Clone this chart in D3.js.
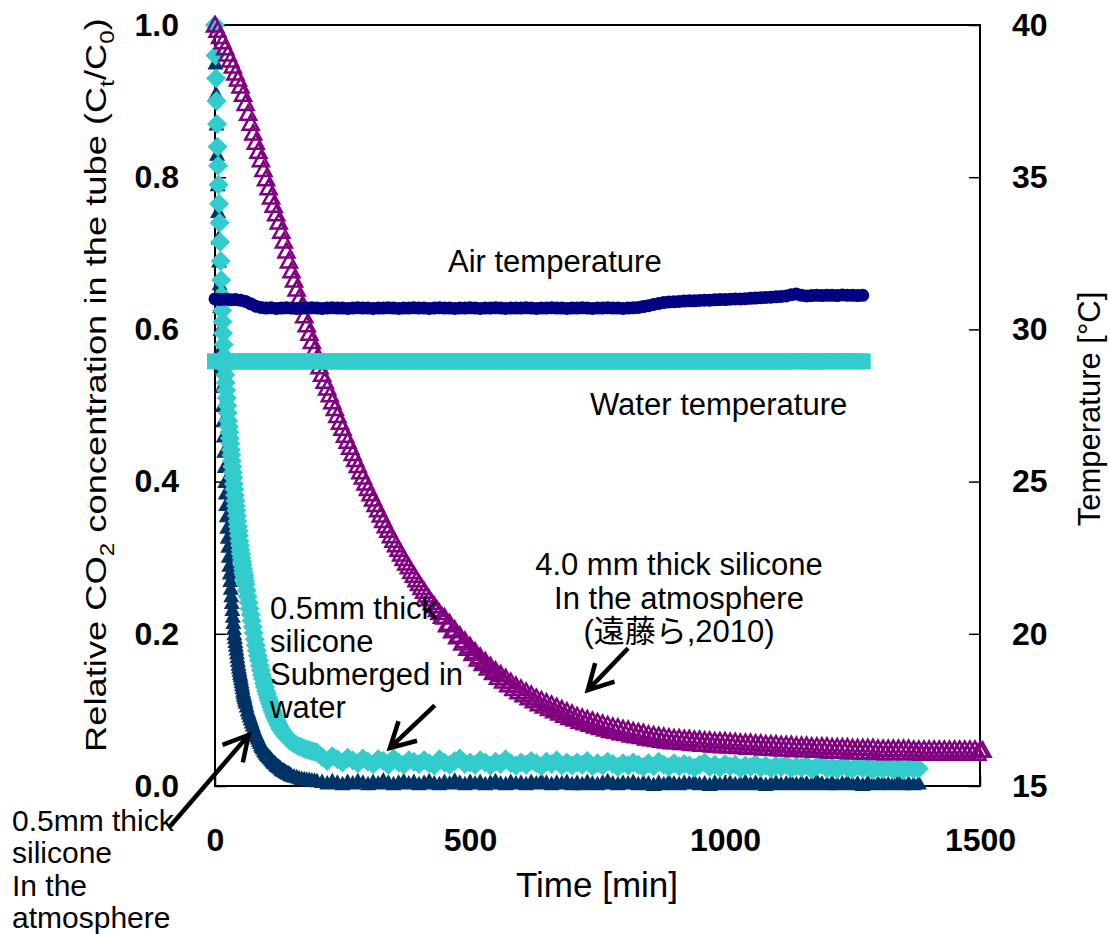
<!DOCTYPE html>
<html><head><meta charset="utf-8">
<script src="https://cdn.jsdelivr.net/npm/d3@7"></script>
<style>
body{margin:0;background:#fff}
text{font-family:"Liberation Sans",Arial,"Noto Sans CJK JP",sans-serif;fill:#000}
</style>
</head><body>
<svg id="c" width="1109" height="934"></svg>
<script>
// ---------------- DATA ----------------
const leftTicks = [0, 0.2, 0.4, 0.6, 0.8, 1.0];
const rightTicks = [15, 20, 25, 30, 35, 40];
const bottomTicks = [0, 500, 1000, 1500];

// time stamps (min) for the two 0.5 mm series
const tFast = [0,1,2,3,4,5,6,7,8,9,10,11,12,13,14,15,16,17,18,19,20,
  21,22,23,24,25,26,27,28,29,30,31,32,33,34,35,36,37,38,39,40,
  41,42,43,44,45,46,47,48,49,50,51,52,53,54,55,56,57,58,59,60,
  62,64,66,68,70,72,74,76,78,80,82,84,86,88,90,92,94,96,98,100,
  102,104,106,108,110,112,114,116,118,120,122,124,126,128,130,132,134,136,138,140,
  142,144,146,148,150,155,160,165,170,175,180,185,190,195,200,
  210,220,230,240,250,260,270,280,290,300,310,320,330,340,350,360,370,380,390,400,
  410,420,430,440,450,460,470,480,490,500,510,520,530,540,550,560,570,580,590,600,
  610,620,630,640,650,660,670,680,690,700,710,720,730,740,750,760,770,780,790,800,
  810,820,830,840,850,860,870,880,890,900,910,920,930,940,950,960,970,980,990,1000,
  1010,1020,1030,1040,1050,1060,1070,1080,1090,1100,1110,1120,1130,1140,1150,1160,1170,1180,1190,1200,
  1210,1220,1230,1240,1250,1260,1270,1280,1290,1300,1310,1320,1330,1340,1350,1360,1370,1380];

// 0.5 mm thick silicone, in the atmosphere (Ct/C0)
const atmo05 = [1.00,0.95,0.91,0.87,0.83,0.79,0.755,0.72,0.69,0.66,0.63,0.60,0.575,0.55,0.525,0.50,0.48,0.46,0.44,0.42,0.40,
  0.385,0.37,0.355,0.34,0.327,0.315,0.302,0.29,0.28,0.27,0.26,0.25,0.241,0.232,0.223,0.215,0.207,0.20,0.195,0.19,
  0.185,0.18,0.175,0.17,0.165,0.16,0.156,0.152,0.148,0.145,0.141,0.137,0.133,0.129,0.125,0.122,0.119,0.116,0.113,0.11,
  0.105,0.100,0.096,0.092,0.088,0.084,0.080,0.076,0.072,0.069,0.066,0.063,0.060,0.057,0.054,0.052,0.050,0.047,0.045,0.043,
  0.041,0.040,0.038,0.037,0.035,0.034,0.032,0.031,0.030,0.028,0.027,0.026,0.025,0.024,0.022,0.021,0.021,0.020,0.019,0.018,
  0.017,0.017,0.016,0.015,0.014,0.013,0.012,0.011,0.010,0.0095,0.009,0.0085,0.008,0.0075,0.007,
  0.006,0.004,0.007,0.005,0.003,0.006,0.004,0.007,0.005,0.003,
  0.006,0.004,0.008,0.005,0.003,0.005,0.007,0.004,0.006,0.003,
  0.005,0.007,0.004,0.003,0.006,0.004,0.008,0.005,0.003,0.006,
  0.004,0.006,0.003,0.005,0.007,0.004,0.003,0.006,0.004,0.005,
  0.003,0.006,0.004,0.007,0.005,0.003,0.005,0.004,0.006,0.003,
  0.005,0.003,0.006,0.004,0.003,0.005,0.007,0.004,0.003,0.005,
  0.004,0.006,0.003,0.005,0.004,0.002,0.005,0.003,0.006,0.004,
  0.003,0.005,0.004,0.006,0.003,0.004,0.002,0.005,0.003,0.004,
  0.005,0.003,0.004,0.006,0.003,0.005,0.004,0.002,0.004,0.005,
  0.003,0.004,0.006,0.003,0.005,0.004,0.003,0.007,0.004,0.003,
  0.005,0.003,0.004,0.006,0.003,0.004,0.002,0.005,0.003,0.004,
  0.005,0.003,0.004,0.006,0.003,0.004,0.003,0.004];

// 0.5 mm thick silicone, submerged in water (Ct/C0)
const water05 = [1.00,0.96,0.93,0.90,0.87,0.84,0.815,0.79,0.765,0.74,0.715,0.69,0.665,0.645,0.625,0.61,0.595,0.58,0.565,0.55,0.54,
  0.53,0.52,0.51,0.50,0.49,0.48,0.472,0.465,0.457,0.45,0.442,0.435,0.427,0.42,0.412,0.405,0.397,0.39,0.382,0.375,
  0.368,0.362,0.355,0.348,0.341,0.335,0.329,0.322,0.316,0.31,0.305,0.30,0.295,0.29,0.285,0.281,0.277,0.273,0.269,0.265,
  0.257,0.249,0.241,0.233,0.225,0.217,0.209,0.201,0.193,0.185,0.178,0.171,0.165,0.158,0.152,0.146,0.141,0.135,0.130,0.125,
  0.121,0.116,0.112,0.108,0.104,0.100,0.097,0.093,0.090,0.087,0.084,0.081,0.079,0.076,0.074,0.072,0.070,0.068,0.066,0.065,
  0.063,0.062,0.060,0.059,0.058,0.056,0.054,0.052,0.051,0.049,0.048,0.047,0.046,0.045,0.044,
  0.038,0.033,0.039,0.035,0.031,0.037,0.034,0.030,0.036,0.032,
  0.029,0.035,0.033,0.028,0.036,0.031,0.028,0.034,0.032,0.029,
  0.034,0.030,0.027,0.035,0.031,0.028,0.033,0.036,0.029,0.031,
  0.028,0.034,0.031,0.027,0.032,0.029,0.035,0.030,0.027,0.031,
  0.028,0.033,0.030,0.026,0.032,0.029,0.034,0.027,0.031,0.027,
  0.031,0.028,0.033,0.026,0.030,0.027,0.032,0.029,0.025,0.030,
  0.027,0.031,0.028,0.025,0.030,0.026,0.032,0.028,0.025,0.030,
  0.026,0.029,0.027,0.024,0.028,0.031,0.025,0.028,0.024,0.029,
  0.026,0.028,0.023,0.027,0.025,0.029,0.024,0.027,0.023,0.027,
  0.025,0.028,0.023,0.026,0.024,0.027,0.022,0.026,0.028,0.023,
  0.025,0.022,0.027,0.024,0.022,0.026,0.023,0.025,0.021,0.024,
  0.022,0.025,0.021,0.024,0.021,0.024,0.022,0.023];

// 4.0 mm thick silicone, in the atmosphere (Endo et al., 2010)
const tThick = [0,5,10,15,20,25,30,35,40,45,50,55,60,65,70,75,80,85,90,95,
  100,105,110,115,120,125,130,135,140,145,150,155,160,165,170,175,180,185,190,195,
  200,205,210,215,220,225,230,235,240,245,250,255,260,265,270,275,280,285,290,295,
  300,305,310,315,320,325,330,335,340,345,350,355,360,365,370,375,380,385,390,395,
  400,405,410,415,420,425,430,435,440,445,450,455,460,465,470,475,480,485,490,495,
  500,505,510,515,520,525,530,535,540,545,550,555,560,565,570,575,580,585,590,595,
  600,605,610,615,620,625,630,635,640,645,650,655,660,665,670,675,680,685,690,695,
  700,705,710,715,720,725,730,735,740,745,750,755,760,765,770,775,780,785,790,795,
  800,805,810,815,820,825,830,835,840,845,850,855,860,865,870,875,880,885,890,895,
  900,905,910,915,920,925,930,935,940,945,950,955,960,965,970,975,980,985,990,995,
  1000,1005,1010,1015,1020,1025,1030,1035,1040,1045,1050,1055,1060,1065,1070,1075,1080,1085,1090,1095,
  1100,1105,1110,1115,1120,1125,1130,1135,1140,1145,1150,1155,1160,1165,1170,1175,1180,1185,1190,1195,
  1200,1205,1210,1215,1220,1225,1230,1235,1240,1245,1250,1255,1260,1265,1270,1275,1280,1285,1290,1295,
  1300,1305,1310,1315,1320,1325,1330,1335,1340,1345,1350,1355,1360,1365,1370,1375,1380,1385,1390,1395,
  1400,1405,1410,1415,1420,1425,1430,1435,1440,1445,1450,1455,1460,1465,1470,1475,1480,1485,1490,1495,
  1500,1505];
const atmo40 = [1.000,0.993,0.985,0.978,0.970,0.962,0.954,0.946,0.937,0.929,
  0.920,0.909,0.897,0.884,0.871,0.858,0.846,0.834,0.823,0.810,
  0.798,0.786,0.774,0.763,0.752,0.741,0.729,0.716,0.703,0.690,
  0.677,0.665,0.653,0.641,0.630,0.618,0.606,0.595,0.584,0.573,
  0.562,0.551,0.541,0.532,0.523,0.514,0.505,0.496,0.487,0.478,
  0.470,0.461,0.453,0.445,0.437,0.429,0.421,0.413,0.406,0.398,
  0.391,0.384,0.377,0.370,0.363,0.356,0.349,0.342,0.336,0.329,
  0.323,0.317,0.311,0.305,0.299,0.293,0.288,0.282,0.277,0.271,
  0.266,0.261,0.256,0.251,0.246,0.241,0.237,0.232,0.228,0.223,
  0.222,0.212,0.214,0.204,0.206,0.196,0.198,0.188,0.191,0.181,
  0.184,0.174,0.177,0.167,0.170,0.161,0.164,0.155,0.158,0.149,
  0.152,0.143,0.147,0.138,0.142,0.133,0.137,0.128,0.132,0.124,
  0.128,0.120,0.124,0.116,0.120,0.112,0.116,0.108,0.113,0.105,
  0.110,0.102,0.107,0.099,0.104,0.096,0.101,0.093,0.098,0.090,
  0.095,0.088,0.092,0.085,0.090,0.083,0.088,0.081,0.086,0.079,
  0.084,0.077,0.082,0.075,0.080,0.073,0.078,0.072,0.077,0.070,
  0.075,0.069,0.074,0.067,0.072,0.066,0.071,0.065,0.070,0.063,
  0.068,0.062,0.067,0.061,0.066,0.060,0.065,0.059,0.064,0.058,
  0.063,0.058,0.063,0.057,0.062,0.057,0.062,0.056,0.061,0.056,
  0.061,0.055,0.060,0.055,0.060,0.054,0.059,0.054,0.059,0.053,
  0.059,0.053,0.058,0.053,0.058,0.052,0.057,0.052,0.057,0.051,
  0.057,0.051,0.056,0.051,0.056,0.050,0.055,0.050,0.055,0.050,
  0.055,0.049,0.054,0.049,0.054,0.049,0.054,0.048,0.053,0.048,
  0.053,0.048,0.053,0.048,0.052,0.047,0.052,0.047,0.052,0.047,
  0.052,0.046,0.051,0.046,0.051,0.046,0.051,0.046,0.051,0.045,
  0.050,0.045,0.050,0.045,0.050,0.045,0.050,0.045,0.050,0.044,
  0.049,0.044,0.049,0.044,0.049,0.044,0.049,0.044,0.049,0.044,
  0.049,0.044,0.049,0.044,0.048,0.044,0.048,0.043,0.048,0.043,
  0.048,0.043,0.048,0.043,0.048,0.043,0.048,0.043,0.048,0.043,
  0.048,0.043,0.048,0.043,0.048,0.043,0.048,0.043,0.048,0.043,
  0.047,0.047];

// temperatures (°C)
const tTemp = [0,10,20,30,40,50,60,70,80,90,100,110,120,130,140,150,160,170,180,190,
  200,210,220,230,240,250,260,270,280,290,300,310,320,330,340,350,360,370,380,390,
  400,410,420,430,440,450,460,470,480,490,500,510,520,530,540,550,560,570,580,590,
  600,610,620,630,640,650,660,670,680,690,700,710,720,730,740,750,760,770,780,790,
  800,810,820,830,840,850,860,870,880,890,900,910,920,930,940,950,960,970,980,990,
  1000,1010,1020,1030,1040,1050,1060,1070,1080,1090,1100,1110,1120,1130,1140,1150,1160,1170,1180,1190,
  1200,1210,1220,1230,1240,1250,1260,1270];
const airTemp = [31.00,30.98,30.99,30.97,30.98,30.96,30.92,30.84,30.76,30.72,
  30.70,30.71,30.69,30.70,30.71,30.70,30.69,30.70,30.70,30.71,
  30.70,30.69,30.70,30.71,30.70,30.70,30.69,30.70,30.71,30.70,
  30.70,30.69,30.70,30.70,30.71,30.70,30.69,30.70,30.70,30.71,
  30.70,30.70,30.69,30.70,30.71,30.70,30.70,30.69,30.70,30.70,
  30.71,30.70,30.69,30.70,30.70,30.71,30.70,30.69,30.70,30.70,
  30.70,30.71,30.70,30.69,30.70,30.70,30.71,30.70,30.70,30.69,
  30.70,30.70,30.71,30.70,30.69,30.70,30.70,30.71,30.70,30.70,
  30.69,30.70,30.71,30.72,30.75,30.78,30.82,30.85,30.88,30.90,
  30.91,30.92,30.93,30.94,30.94,30.95,30.96,30.96,30.97,30.98,
  30.98,30.99,31.00,31.00,31.01,31.02,31.03,31.04,31.05,31.06,
  31.07,31.08,31.10,31.14,31.16,31.12,31.10,31.11,31.12,31.11,
  31.12,31.12,31.11,31.13,31.12,31.12,31.11,31.12];
const waterTemp = [28.95,28.95,28.95,28.95,28.95,28.95,28.95,28.95,28.95,28.95,
  28.95,28.95,28.95,28.95,28.95,28.95,28.95,28.95,28.95,28.95,
  28.95,28.95,28.95,28.95,28.95,28.95,28.95,28.95,28.95,28.95,
  28.95,28.95,28.95,28.95,28.95,28.95,28.95,28.95,28.95,28.95,
  28.95,28.95,28.95,28.95,28.95,28.95,28.95,28.95,28.95,28.95,
  28.95,28.95,28.95,28.95,28.95,28.95,28.95,28.95,28.95,28.95,
  28.95,28.95,28.95,28.95,28.95,28.95,28.95,28.95,28.95,28.95,
  28.95,28.95,28.95,28.95,28.95,28.95,28.95,28.95,28.95,28.95,
  28.95,28.95,28.95,28.95,28.95,28.95,28.95,28.95,28.95,28.95,
  28.95,28.95,28.95,28.95,28.95,28.95,28.95,28.95,28.95,28.95,
  28.95,28.95,28.95,28.95,28.95,28.95,28.95,28.95,28.95,28.95,
  28.95,28.95,28.95,28.95,28.96,28.95,28.95,28.95,28.95,28.95,
  28.95,28.96,28.95,28.95,28.96,28.95,28.95,28.95];

// ---------------- CHART ----------------
const svg = d3.select("#c");
const x = d3.scaleLinear().domain([0, 1500]).range([215, 980]);
const yL = d3.scaleLinear().domain([0, 1]).range([786, 25]);
const yR = d3.scaleLinear().domain([15, 40]).range([786, 25]);

const C = {navy:"#003366", cyan:"#33CCCC", purple:"#800080", air:"#000080"};

// frame
svg.append("rect").attr("x", x(0)).attr("y", yL(1)).attr("width", x(1500)-x(0)).attr("height", yL(0)-yL(1))
  .attr("fill","none").attr("stroke","#000").attr("stroke-width",2);

// axes
function styleAxis(g){
  g.select(".domain").remove();
  g.selectAll(".tick line").attr("stroke","#000").attr("stroke-width",1.5);
  g.selectAll(".tick text").style("font-size","32px").style("font-weight","bold")
    .style("font-family",'"Liberation Sans",Arial,sans-serif').attr("fill","#000");
}
svg.append("g").attr("transform",`translate(${x(0)},0)`)
  .call(d3.axisLeft(yL).tickValues(leftTicks).tickFormat(d3.format(".1f")).tickSizeInner(-11).tickSizeOuter(0).tickPadding(36))
  .call(styleAxis);
svg.append("g").attr("transform",`translate(${x(1500)},0)`)
  .call(d3.axisRight(yR).tickValues(rightTicks).tickSizeInner(-11).tickSizeOuter(0).tickPadding(32))
  .call(styleAxis);
svg.append("g").attr("transform",`translate(0,${yL(0)})`)
  .call(d3.axisBottom(x).tickValues(bottomTicks).tickFormat(d3.format("d")).tickSizeInner(-11).tickSizeOuter(0).tickPadding(42))
  .call(styleAxis);

// marker shapes
const triPath = "M0,-8L8,6.5L-8,6.5Z";
const diaPath = "M0,-10L10,0L0,10L-10,0Z";
const openTri = "M0,-8L8,6.5L-8,6.5Z";

function series(ts, vs, ys, path, fill, stroke, sw){
  svg.append("g").selectAll("path").data(ts.map((t,i)=>[t,vs[i]])).join("path")
    .attr("d", path)
    .attr("transform", d=>`translate(${x(d[0])},${ys(d[1])})`)
    .attr("fill", fill).attr("stroke", stroke).attr("stroke-width", sw);
}
series(tFast, atmo05, yL, triPath, C.navy, "none", 0);
series(tFast, water05, yL, diaPath, C.cyan, "none", 0);
series(tThick, atmo40, yL, openTri, "none", C.purple, 2.5);

// temperatures
svg.append("g").selectAll("circle").data(tTemp.map((t,i)=>[t,airTemp[i]])).join("circle")
  .attr("cx", d=>x(d[0])).attr("cy", d=>yR(d[1])).attr("r",6.5).attr("fill",C.air);
svg.append("g").selectAll("rect").data(tTemp.map((t,i)=>[t,waterTemp[i]])).join("rect")
  .attr("x", d=>x(d[0])-8).attr("y", d=>yR(d[1])-8).attr("width",16).attr("height",16).attr("fill",C.cyan);

// text helpers
function label(lines, px, py, anchor, lh, fs){
  const t = svg.append("text").attr("text-anchor", anchor||"start").style("font-size",(fs||31)+"px");
  lines.forEach((s,i)=> t.append("tspan").attr("x",px).attr("y",py+i*(lh||33)).text(s));
  return t;
}
label(["Air temperature"], 448, 272);
label(["Water temperature"], 590, 415);
label(["4.0 mm thick silicone","In the atmosphere","(遠藤ら,2010)"], 679, 575, "middle", 33.5);
label(["0.5mm thick","silicone","Submerged in","water"], 270, 619, "start", 33);
label(["0.5mm thick","silicone","In the","atmosphere"], 12, 831, "start", 32.3, 30);

// arrows (anchored in data coordinates)
function arrow(t0,c0,t1,c1){
  const x0=x(t0), y0=yL(c0), x1=x(t1), y1=yL(c1);
  const a = Math.atan2(y0-y1, x0-x1), L=28, h=0.5;
  const p1=[x1+L*Math.cos(a+h), y1+L*Math.sin(a+h)], p2=[x1+L*Math.cos(a-h), y1+L*Math.sin(a-h)];
  svg.append("path").attr("d",`M${x0},${y0}L${x1},${y1}M${p1}L${x1},${y1}L${p2}`)
    .attr("fill","none").attr("stroke","#000").attr("stroke-width",4.5).attr("stroke-linejoin","miter");
}
arrow(-88,-0.053, 66,0.067);
arrow(431,0.106, 343,0.05);
arrow(810,0.181, 731,0.126);

// axis titles
svg.append("text").attr("x",597).attr("y",897).attr("text-anchor","middle").style("font-size","35px").text("Time [min]");
svg.append("text").attr("transform","translate(1100,409) rotate(-90)").attr("text-anchor","middle").style("font-size","31px").text("Temperature [°C]");

const lt = svg.append("text").attr("text-anchor","middle").style("font-size","30px");
lt.append("tspan").text("Relative CO");
lt.append("tspan").text("2").style("font-size","20px").attr("dy",8);
lt.append("tspan").text(" concentration in the tube (C").attr("dy",-8);
lt.append("tspan").text("t").style("font-size","20px").attr("dy",8);
lt.append("tspan").text("/C").attr("dy",-8);
lt.append("tspan").text("0").style("font-size","20px").attr("dy",8);
lt.append("tspan").text(")").attr("dy",-8);
const len = lt.node().getComputedTextLength();
const target = 734;
lt.attr("transform",`translate(106,385) rotate(-90) scale(${target/len},1)`);
</script>
</body></html>
